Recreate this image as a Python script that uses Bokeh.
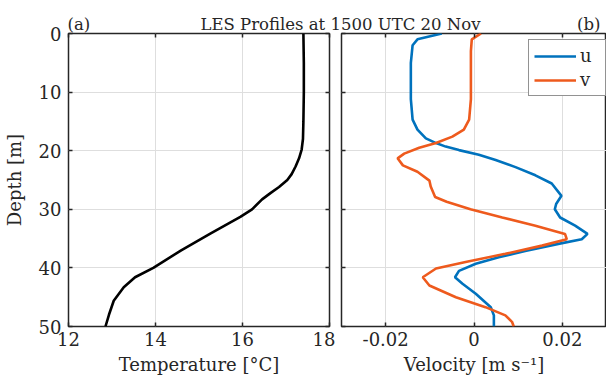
from bokeh.plotting import figure
from bokeh.models import Range1d, FixedTicker, LinearAxis, Label, Legend, LegendItem
from bokeh.layouts import column, row
from bokeh.embed import file_html
from bokeh.resources import INLINE

# ---------------- data ----------------
depth_T = [0, 5, 10, 15, 18, 19.8, 21.3, 22.7, 24, 25, 26.2, 27.2, 28.3, 30, 31.3, 34.1, 37, 40,
           41.6, 43.3, 45.6, 48, 50]
temp = [17.4, 17.41, 17.41, 17.4, 17.39, 17.36, 17.3, 17.22, 17.13, 17.03, 16.84, 16.65, 16.45,
        16.22, 15.95, 15.27, 14.59, 13.95, 13.53, 13.27, 13.04, 12.93, 12.85]

depth_u = [0, 1, 2, 5, 11.2, 14.7, 16.4, 17.9, 18.7, 19.3, 19.9, 20.7, 21.6, 22.8, 24.2, 25.6,
           27.7, 29.1, 30, 31.4, 32.8, 34.2, 35.1, 35.9, 37.1, 38.2, 39.3, 40.5, 41.6, 42.7, 44.4,
           46.7, 48.1, 50]
u = [-0.0073, -0.0128, -0.0139, -0.0143, -0.0143, -0.0139, -0.0128, -0.0109, -0.0086, -0.0064,
     -0.0034, 0.0011, 0.0049, 0.0094, 0.0139, 0.0176, 0.0198, 0.0186, 0.0183, 0.0195, 0.0229,
     0.0257, 0.0244, 0.0191, 0.0116, 0.0056, 0.0004, -0.0034, -0.0043, -0.0026, 0.0004, 0.0038,
     0.0045, 0.0045]

depth_v = [0, 1, 3, 11.2, 14.7, 16.4, 17.6, 18.7, 19.5, 20.5, 21.3, 22.5, 23.6, 25.1, 26.1, 27.9,
           28.7, 30, 31.4, 32.8, 34.2, 35.1, 36.2, 37.6, 39.0, 40.1, 41.6, 43.0, 45.0, 46.7, 48.1,
           49.2, 50]
v = [0.0016, -0.0005, -0.0007, -0.0007, -0.0011, -0.0023, -0.0049, -0.0086, -0.0124, -0.0158,
     -0.0173, -0.0161, -0.0128, -0.0101, -0.0098, -0.0088, -0.0062, -0.0008, 0.0064, 0.0139,
     0.0206, 0.021, 0.0154, 0.0071, -0.0019, -0.0086, -0.0116, -0.0101, -0.0041, 0.0026, 0.0071,
     0.0086, 0.009]

depth_ticks = [0, 10, 20, 30, 40, 50]
temp_ticks = [12, 14, 16, 18]
vel_ticks = [-0.02, 0, 0.02]
vel_tick_labels = ["-0.02", "0", "0.02"]

title_text = "LES Profiles at 1500 UTC 20 Nov"
FONT = "DejaVu Serif"
TICK_FS = "18px"
LAB_FS = "18px"
DARK = "#262626"
GRID = "#dedede"
OVERLAP = 26

# ---------------- title strip ----------------
top = figure(width=606, height=33, x_range=Range1d(0, 606), y_range=Range1d(0, 33),
             x_axis_type=None, y_axis_type=None, output_backend="svg",
             toolbar_location=None, min_border=0, margin=(0, 0, -OVERLAP, 0))
top.outline_line_color = None
top.grid.visible = False
for txt, xx, align in [("(a)", 67, "left"), (title_text, 340, "center"), ("(b)", 600, "right")]:
    top.add_layout(Label(x=xx, y=9, text=txt, text_align=align, text_baseline="alphabetic",
                         text_font=FONT, text_font_size="16.5px", text_color=DARK))


def style(p):
    p.border_fill_alpha = 0
    p.outline_line_color = DARK
    p.outline_line_width = 1.5
    p.grid.grid_line_color = GRID
    p.grid.grid_line_width = 1
    for ax in p.axis:
        ax.axis_line_color = None
        ax.major_tick_in = 4
        ax.major_tick_out = 0
        ax.major_tick_line_color = DARK
        ax.major_tick_line_width = 1.5
        ax.minor_tick_line_color = None
        ax.major_label_text_font = FONT
        ax.major_label_text_font_size = TICK_FS
        ax.major_label_text_color = DARK
        ax.axis_label_text_font = FONT
        ax.axis_label_text_font_size = LAB_FS
        ax.axis_label_text_font_style = "normal"
        ax.axis_label_text_color = DARK


def tick_only_axis(ticks):
    return LinearAxis(ticker=FixedTicker(ticks=ticks),
                      major_label_overrides={t: "" for t in ticks})


# ---------------- panel (a) ----------------
pa = figure(width=335, height=348 + OVERLAP, x_range=Range1d(12, 18), y_range=Range1d(50, 0),
            output_backend="svg", toolbar_location=None,
            min_border_left=62, min_border_right=6, min_border_top=OVERLAP, min_border_bottom=55)
pa.line(temp, depth_T, line_color="black", line_width=2.6)
pa.xaxis.ticker = FixedTicker(ticks=temp_ticks)
pa.yaxis.ticker = FixedTicker(ticks=depth_ticks)
pa.xaxis.axis_label = "Temperature [°C]"
pa.yaxis.axis_label = "Depth [m]"
pa.xgrid.ticker = FixedTicker(ticks=temp_ticks)
pa.ygrid.ticker = FixedTicker(ticks=depth_ticks)
a_right = tick_only_axis(depth_ticks)
a_top = tick_only_axis(temp_ticks)
pa.add_layout(a_right, "right")
pa.add_layout(a_top, "above")
style(pa)
for ax in (a_right, a_top):
    ax.major_label_standoff = 0
pa.xaxis[0].major_label_standoff = 9
pa.yaxis[0].major_label_standoff = 7
pa.xaxis[0].axis_label_standoff = 5
pa.yaxis[0].axis_label_standoff = 11

# ---------------- panel (b) ----------------
pb = figure(width=271, height=348 + OVERLAP, x_range=Range1d(-0.03, 0.03), y_range=Range1d(50, 0),
            output_backend="svg", toolbar_location=None,
            min_border_left=6, min_border_right=0, min_border_top=OVERLAP, min_border_bottom=55)
lu = pb.line(u, depth_u, line_color="#0072BD", line_width=2.6)
lv = pb.line(v, depth_v, line_color="#EE5A1D", line_width=2.6)
pb.xaxis.ticker = FixedTicker(ticks=vel_ticks)
pb.xaxis.major_label_overrides = {t: s for t, s in zip(vel_ticks, vel_tick_labels)}
pb.yaxis.ticker = FixedTicker(ticks=depth_ticks)
pb.yaxis.major_label_overrides = {t: "" for t in depth_ticks}
pb.xgrid.ticker = FixedTicker(ticks=vel_ticks)
pb.ygrid.ticker = FixedTicker(ticks=depth_ticks)
pb.xaxis.axis_label = "Velocity [m s⁻¹]"
b_top = tick_only_axis(vel_ticks)
pb.add_layout(b_top, "above")
style(pb)
b_top.major_label_standoff = 0
pb.yaxis.major_label_standoff = 0
pb.xaxis[0].major_label_standoff = 9
pb.xaxis[0].axis_label_standoff = 5

legend = Legend(items=[LegendItem(label="u", renderers=[lu]), LegendItem(label="v", renderers=[lv])],
                location=(187, 230))
legend.border_line_color = DARK
legend.border_line_width = 1
legend.background_fill_color = "white"
legend.background_fill_alpha = 1
legend.label_text_font = FONT
legend.label_text_font_size = "18px"
legend.label_text_color = DARK
legend.glyph_width = 42
legend.glyph_height = 20
legend.padding = 5
legend.spacing = 3
legend.label_standoff = 4
legend.margin = 0
pb.add_layout(legend, "center")

layout = column(top, row(pa, pb, spacing=0), spacing=0)
open("out.html", "w").write(file_html(layout, INLINE))
